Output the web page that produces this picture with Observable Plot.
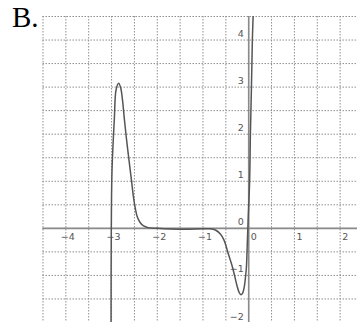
<!DOCTYPE html>
<html>
<head>
<meta charset="utf-8">
<script src="https://cdn.jsdelivr.net/npm/d3@7"></script>
<script src="https://cdn.jsdelivr.net/npm/@observablehq/plot@0.6"></script>
<style>
  html, body { margin: 0; padding: 0; background: #fff; }
  #wrap { position: relative; width: 357px; height: 322px; overflow: hidden; }
  #label { position: absolute; left: 12px; top: 0px; font-family: "Liberation Serif", "DejaVu Serif", serif; font-size: 29px; color: #000; line-height: 34px; }
</style>
</head>
<body>
<div id="wrap"><div id="label">B.</div></div>
<script>
// Curve points
const curveX = [-3.012, -3.006, -2.99, -2.94, -2.90, -2.845, -2.80, -2.76, -2.72, -2.68, -2.64, -2.60, -2.56, -2.52, -2.48, -2.44, -2.38, -2.30, -2.20, -2.0, -1.5, -1.0, -0.85, -0.72, -0.62, -0.54, -0.45, -0.40, -0.356, -0.30, -0.25, -0.21, -0.17, -0.13, -0.10, -0.075, -0.05, -0.03, -0.01, 0.02, 0.037, 0.06, 0.08, 0.10];
const curveY = [-2.3, 0.0, 1.24, 2.31, 2.95, 3.08, 2.98, 2.72, 2.32, 1.95, 1.62, 1.30, 0.98, 0.66, 0.42, 0.25, 0.13, 0.05, 0.015, 0.0, -0.02, -0.01, -0.01, -0.04, -0.12, -0.25, -0.53, -0.68, -0.82, -1.04, -1.24, -1.36, -1.41, -1.37, -1.26, -1.08, -0.82, -0.30, 0.25, 1.0, 2.0, 3.0, 4.0, 4.6];

const xTicks = [-4, -3, -2, -1, 0, 1, 2];
const yTicks = [4, 3, 2, 1, 0, -1, -2];
const gridXs = [-4.5, -4, -3.5, -3, -2.5, -2, -1.5, -1, -0.5, 0, 0.5, 1, 1.5, 2];
const gridYs = [4.5, 4, 3.5, 3, 2.5, 2, 1.5, 1, 0.5, 0, -0.5, -1, -1.5, -2];

const pts = curveX.map((x, i) => ({x, y: curveY[i]}));
const lab = v => (v < 0 ? "\u2212" + Math.abs(v) : String(v));

const chart = Plot.plot({
  width: 357,
  height: 322,
  marginLeft: 42.5,
  marginTop: 16,
  marginRight: 0,
  marginBottom: 0,
  x: {domain: [-4.5, 2.38], axis: null},
  y: {domain: [-2, 4.5], axis: null},
  style: {background: "#fff", fontFamily: "DejaVu Sans, sans-serif"},
  marks: [
    Plot.ruleX(gridXs, {stroke: "#8f8f8f", strokeDasharray: "1.5,1.5", strokeWidth: 1}),
    Plot.ruleY(gridYs, {stroke: "#8f8f8f", strokeDasharray: "1.5,1.5", strokeWidth: 1}),
    Plot.ruleY([0], {stroke: "#8a8a8a", strokeWidth: 1.6}),
    Plot.ruleX([0], {stroke: "#8a8a8a", strokeWidth: 1.6}),
    Plot.line(pts, {x: "x", y: "y", stroke: "#555", strokeWidth: 1.5, curve: "catmull-rom", clip: true}),
    Plot.text(xTicks.filter(d => d < 0), {x: d => d, y: 0, text: lab, textAnchor: "start", dx: -5, dy: 9, fontSize: 9.5, fill: "#555"}),
    Plot.text(xTicks.filter(d => d >= 0), {x: d => d, y: 0, text: lab, textAnchor: "start", dx: 2, dy: 9, fontSize: 9.5, fill: "#555"}),
    Plot.text(yTicks, {x: 0, y: d => d, text: lab, textAnchor: "end", dx: -5, dy: -6, fontSize: 9.5, fill: "#555"})
  ]
});
document.getElementById("wrap").appendChild(chart);
</script>
</body>
</html>
